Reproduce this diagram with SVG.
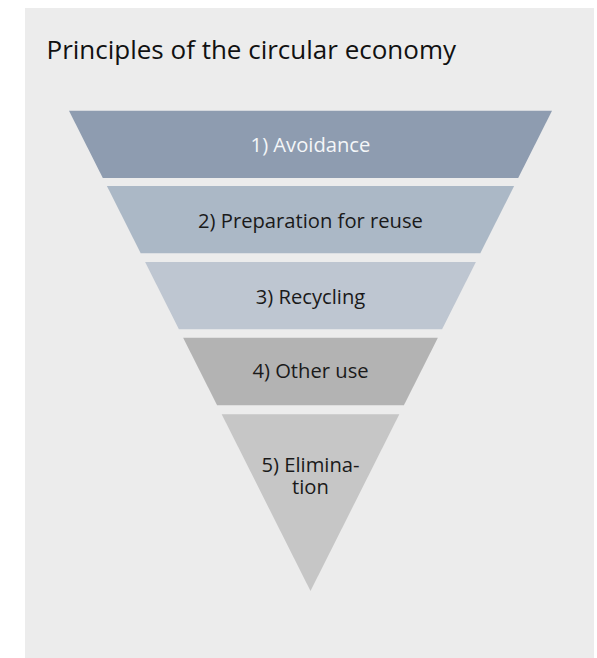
<svg xmlns="http://www.w3.org/2000/svg" width="597" height="658" viewBox="0 0 597 658">
  <style>
    .title { font-family: "Open Sans", "Noto Sans", sans-serif; font-size: 26px; fill: #111111; }
    .label { font-family: "Open Sans", "Noto Sans", sans-serif; font-size: 20.2px; fill: #1a1a1a; text-anchor: middle; }
    .label.light { fill: #f4f6f8; }
  </style>
  <rect width="597" height="658" fill="#ffffff"/>
  <!-- panel -->
  <rect x="25" y="8" width="569" height="650" fill="#ececec"/>
  <text class="title" x="46.5" y="59">Principles of the circular economy</text>

  <!-- inverted pyramid, five slices of one triangle -->
  <g id="level-1">
    <polygon points="69,110.7 552,110.7 518.2,178 102.8,178" fill="#8e9cb0"/>
    <text class="label light" x="310.5" y="152.3">1) Avoidance</text>
  </g>
  <g id="level-2">
    <polygon points="106.9,186 514.1,186 480.3,253.3 140.7,253.3" fill="#abb8c6"/>
    <text class="label" x="310.5" y="227.7">2) Preparation for reuse</text>
  </g>
  <g id="level-3">
    <polygon points="145.1,262 475.9,262 442.1,329.3 178.9,329.3" fill="#bec6d1"/>
    <text class="label" x="310.5" y="304">3) Recycling</text>
  </g>
  <g id="level-4">
    <polygon points="183.1,337.7 437.9,337.7 403.9,405.3 217.1,405.3" fill="#b3b3b3"/>
    <text class="label" x="310.5" y="377.7">4) Other use</text>
  </g>
  <g id="level-5">
    <polygon points="221.7,414.3 399.3,414.3 310.5,591" fill="#c6c6c6"/>
    <text class="label" x="310.5" y="471.7"><tspan x="310.5">5) Elimina-</tspan><tspan x="310.5" dy="22.3">tion</tspan></text>
  </g>
  <g id="connectors"/>
</svg>
